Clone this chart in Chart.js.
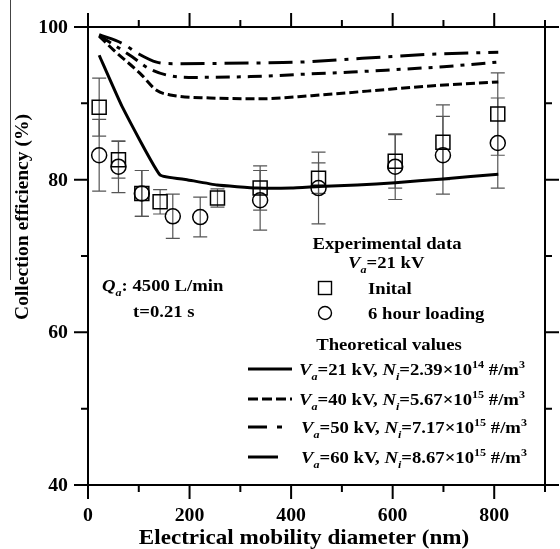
<!DOCTYPE html>
<html>
<head>
<meta charset="utf-8">
<script src="https://cdn.jsdelivr.net/npm/chart.js@4.4.0/dist/chart.umd.min.js"></script>
<style>
  body { margin: 0; background: #fff; }
  #wrap { width: 560px; height: 549px; }
</style>
</head>
<body>
<div id="wrap"><canvas id="chart" width="560" height="549"></canvas></div>
<script>
// tick values
const xTicks = [0, 200, 400, 600, 800];
const xMinor = [100, 300, 500, 700, 900];
const yTicks = [40, 60, 80, 100];
const yMinor = [50, 70, 90];

// experimental data, Va = 21 kV
const initX = [22, 60, 106, 142, 255, 339, 454, 605, 699, 807];
const initY = [89.5, 82.6, 78.2, 77.1, 77.6, 78.9, 80.2, 82.4, 84.9, 88.6];
const initErr = [3.8, 2.4, 3.0, 1.6, 1.2, 2.9, 2.0, 3.5, 4.9, 5.4];

const loadX = [22, 60, 106, 167, 221, 339, 454, 605, 699, 807];
const loadY = [83.2, 81.7, 78.2, 75.2, 75.1, 77.3, 78.9, 81.7, 83.2, 84.8];
const loadErr = [4.7, 3.4, 3.0, 2.9, 2.6, 3.9, 4.7, 4.3, 5.1, 5.9];

// theoretical curves
const th21X = [22, 67, 142, 195, 254, 333, 400, 455, 530, 605, 699, 808];
const th21Y = [96.3, 89.6, 80.6, 80.0, 79.3, 78.9, 78.9, 79.1, 79.3, 79.6, 80.1, 80.7];
const th40X = [22, 50, 103, 135, 162, 240, 340, 440, 550, 680, 808];
const th40Y = [98.8, 97.0, 93.9, 91.7, 91.1, 90.7, 90.6, 91.0, 91.6, 92.3, 92.8];
const th50X = [22, 87, 119, 155, 210, 320, 420, 520, 600, 700, 808];
const th50Y = [98.9, 96.1, 94.6, 93.7, 93.4, 93.5, 93.8, 94.1, 94.4, 94.8, 95.4];
const th60X = [22, 69, 99, 135, 170, 340, 418, 540, 667, 808];
const th60Y = [99.0, 97.8, 96.5, 95.4, 95.2, 95.3, 95.4, 95.9, 96.4, 96.7];

// legend labels: [text, kind]  b = bold, i = italic, isub = italic subscript, sup = superscript
const thLabels = [
  [['V','i'],['a','isub'],['=21 kV, ','b'],['N','i'],['i','isub'],['=2.39\u00d710','b'],['14','sup'],[' #/m','b'],['3','sup']],
  [['V','i'],['a','isub'],['=40 kV, ','b'],['N','i'],['i','isub'],['=5.67\u00d710','b'],['15','sup'],[' #/m','b'],['3','sup']],
  [['V','i'],['a','isub'],['=50 kV, ','b'],['N','i'],['i','isub'],['=7.17\u00d710','b'],['15','sup'],[' #/m','b'],['3','sup']],
  [['V','i'],['a','isub'],['=60 kV, ','b'],['N','i'],['i','isub'],['=8.67\u00d710','b'],['15','sup'],[' #/m','b'],['3','sup']]
];
const dashes = [[], [9, 4], [14, 7, 4, 7], [24, 8, 4, 8]];
const legendDashes = [[], [10, 4], [19, 10, 5, 20], []];

const SERIF = '"Liberation Serif", "Times New Roman", serif';
const HS = 1.1; // the figure's lettering is a bit wide

function pts(xs, ys) {
  return xs.map((x, i) => ({ x: x, y: ys[i] }));
}

function fontFor(kind, size) {
  const small = Math.round(size * 0.62);
  if (kind === 'i') return 'italic bold ' + size + 'px ' + SERIF;
  if (kind === 'isub') return 'italic bold ' + small + 'px ' + SERIF;
  if (kind === 'sup') return 'bold ' + small + 'px ' + SERIF;
  return 'bold ' + size + 'px ' + SERIF;
}

// draws mixed-style text, stretched horizontally by HS
function drawRich(ctx, x, y, parts, size, align) {
  let w = 0;
  parts.forEach(p => { ctx.font = fontFor(p[1], size); w += ctx.measureText(p[0]).width; });
  let cx = 0;
  if (align === 'center') cx = -w / 2;
  if (align === 'right') cx = -w;
  ctx.save();
  ctx.translate(x, y);
  ctx.scale(HS, 1);
  ctx.textAlign = 'left';
  ctx.textBaseline = 'alphabetic';
  parts.forEach(p => {
    ctx.font = fontFor(p[1], size);
    let dy = 0;
    if (p[1] === 'isub') dy = size * 0.3;
    if (p[1] === 'sup') dy = -size * 0.4;
    ctx.fillText(p[0], cx, dy);
    cx += ctx.measureText(p[0]).width;
  });
  ctx.restore();
}

// error bars, drawn under the markers
const errorBars = {
  id: 'errorBars',
  beforeDatasetsDraw(chart) {
    const ctx = chart.ctx, xs = chart.scales.x, ys = chart.scales.y;
    ctx.save();
    ctx.strokeStyle = '#555';
    ctx.lineWidth = 1.2;
    const bars = (X, Y, E) => {
      X.forEach((v, i) => {
        const px = xs.getPixelForValue(v);
        const top = ys.getPixelForValue(Y[i] + E[i]);
        const bot = ys.getPixelForValue(Y[i] - E[i]);
        ctx.beginPath();
        ctx.moveTo(px, top); ctx.lineTo(px, bot);
        ctx.moveTo(px - 7, top); ctx.lineTo(px + 7, top);
        ctx.moveTo(px - 7, bot); ctx.lineTo(px + 7, bot);
        ctx.stroke();
      });
    };
    bars(initX, initY, initErr);
    bars(loadX, loadY, loadErr);
    ctx.restore();
  }
};

// frame, ticks, labels, legend and notes
const decor = {
  id: 'decor',
  afterDraw(chart) {
    const ctx = chart.ctx, a = chart.chartArea, xs = chart.scales.x, ys = chart.scales.y;
    ctx.save();
    ctx.strokeStyle = '#000';
    ctx.fillStyle = '#000';
    ctx.lineWidth = 2;
    ctx.strokeRect(a.left, a.top, a.right - a.left, a.bottom - a.top);

    ctx.beginPath();
    xTicks.forEach(v => {
      const p = xs.getPixelForValue(v);
      ctx.moveTo(p, a.bottom); ctx.lineTo(p, a.bottom + 14);
      ctx.moveTo(p, a.top); ctx.lineTo(p, a.top - 14);
    });
    xMinor.forEach(v => {
      const p = xs.getPixelForValue(v);
      ctx.moveTo(p, a.bottom); ctx.lineTo(p, a.bottom + 7);
      ctx.moveTo(p, a.top); ctx.lineTo(p, a.top - 7);
    });
    yTicks.forEach(v => {
      const p = ys.getPixelForValue(v);
      ctx.moveTo(a.left, p); ctx.lineTo(a.left - 14, p);
      ctx.moveTo(a.right, p); ctx.lineTo(a.right + 14, p);
    });
    yMinor.forEach(v => {
      const p = ys.getPixelForValue(v);
      ctx.moveTo(a.left, p); ctx.lineTo(a.left - 7, p);
      ctx.moveTo(a.right, p); ctx.lineTo(a.right + 7, p);
    });
    ctx.stroke();

    xTicks.forEach(v => drawRich(ctx, xs.getPixelForValue(v), 521, [[String(v), 'b']], 18, 'center'));
    yTicks.forEach(v => drawRich(ctx, a.left - 20, ys.getPixelForValue(v) + 6, [[String(v), 'b']], 18, 'right'));

    // axis titles
    drawRich(ctx, 304, 544, [['Electrical mobility diameter (nm)', 'b']], 21, 'center');
    ctx.save();
    ctx.translate(28, 217);
    ctx.rotate(-Math.PI / 2);
    ctx.font = 'bold 19.5px ' + SERIF;
    ctx.textAlign = 'center';
    ctx.textBaseline = 'alphabetic';
    ctx.fillText('Collection efficiency (%)', 0, 0);
    ctx.restore();
    ctx.lineWidth = 1;
    ctx.strokeStyle = '#444';
    ctx.beginPath();
    ctx.moveTo(10.5, 0); ctx.lineTo(10.5, 280);
    ctx.stroke();

    // notes
    drawRich(ctx, 102, 291, [['Q','i'],['a','isub'],[': 4500 L/min','b']], 17, 'left');
    drawRich(ctx, 133, 317, [['t=0.21 s','b']], 17, 'left');

    // legend: experimental
    drawRich(ctx, 387, 249, [['Experimental data','b']], 17, 'center');
    drawRich(ctx, 348, 268, [['V','i'],['a','isub'],['=21 kV','b']], 17, 'left');
    drawRich(ctx, 368, 294, [['Inital','b']], 17, 'left');
    drawRich(ctx, 368, 319, [['6 hour loading','b']], 17, 'left');
    ctx.lineWidth = 1.4;
    ctx.strokeStyle = '#000';
    ctx.strokeRect(318.5, 281.5, 13, 13);
    ctx.beginPath();
    ctx.arc(325, 313, 6.5, 0, Math.PI * 2);
    ctx.stroke();

    // legend: theoretical
    drawRich(ctx, 389, 350, [['Theoretical values','b']], 17, 'center');
    const rowY = [375, 405, 433, 463];
    const lineEnd = [292, 292, 283, 278];
    rowY.forEach((y, i) => {
      ctx.lineWidth = 3;
      ctx.setLineDash(legendDashes[i]);
      ctx.beginPath();
      ctx.moveTo(248, y - 6); ctx.lineTo(lineEnd[i], y - 6);
      ctx.stroke();
      ctx.setLineDash([]);
      drawRich(ctx, i < 2 ? 299 : 301, y, thLabels[i], 17, 'left');
    });
    ctx.restore();
  }
};

const lineStyle = (data, dash, smooth) => ({
  type: 'scatter',
  data: data,
  showLine: true,
  borderColor: '#000',
  borderWidth: 3,
  borderDash: dash,
  pointRadius: 0,
  tension: smooth ? 0 : 0.12,
  cubicInterpolationMode: smooth ? 'monotone' : 'default',
  fill: false
});

const ctx = document.getElementById('chart');
new Chart(ctx, {
  type: 'scatter',
  data: {
    datasets: [
      lineStyle(pts(th21X, th21Y), dashes[0], false),
      lineStyle(pts(th40X, th40Y), dashes[1], true),
      lineStyle(pts(th50X, th50Y), dashes[2], true),
      lineStyle(pts(th60X, th60Y), dashes[3], true),
      {
        label: 'Inital',
        data: pts(initX, initY),
        pointStyle: 'rect',
        pointRadius: 9.9,
        borderColor: '#000',
        borderWidth: 1.5,
        backgroundColor: 'rgba(0,0,0,0)'
      },
      {
        label: '6 hour loading',
        data: pts(loadX, loadY),
        pointStyle: 'circle',
        pointRadius: 7.5,
        borderColor: '#000',
        borderWidth: 1.5,
        backgroundColor: 'rgba(0,0,0,0)'
      }
    ]
  },
  options: {
    responsive: false,
    animation: false,
    layout: { padding: { left: 88, right: 15, top: 27, bottom: 64 } },
    plugins: { legend: { display: false }, tooltip: { enabled: false } },
    scales: {
      x: { type: 'linear', min: 0, max: 900, display: false },
      y: { type: 'linear', min: 40, max: 100, display: false }
    }
  },
  plugins: [errorBars, decor]
});
</script>
</body>
</html>
